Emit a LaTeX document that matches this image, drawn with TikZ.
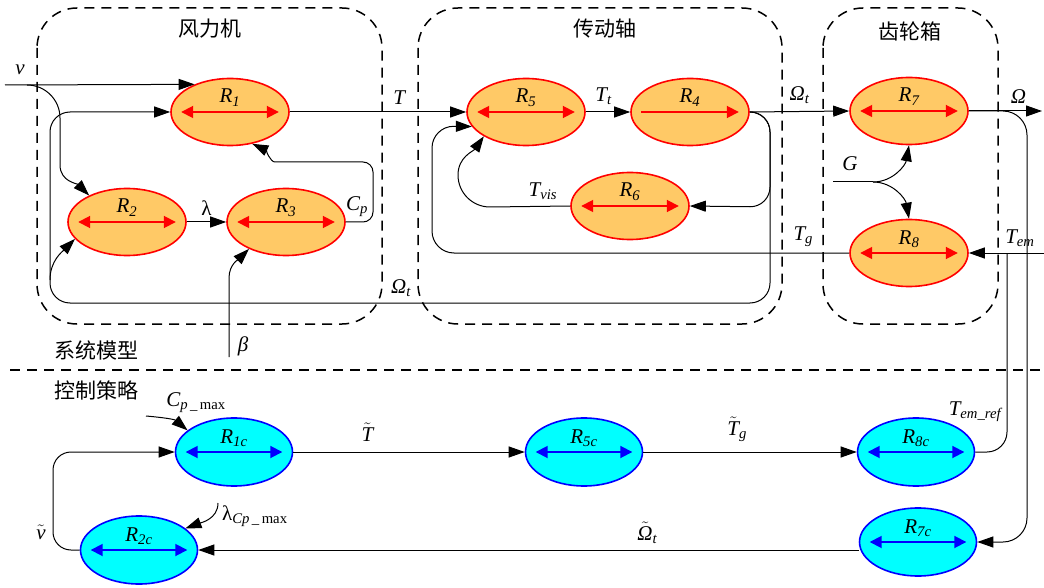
\documentclass[tikz,border=0pt]{standalone}
\usepackage{fontspec}
\setmainfont{Liberation Serif}
\newfontfamily\cjk{Noto Sans CJK SC}
\usepackage{xcolor}
\definecolor{plantFill}{HTML}{FFC966}
\definecolor{plantEdge}{HTML}{FF0000}
\definecolor{ctrlFill}{HTML}{00FFFF}
\definecolor{ctrlEdge}{HTML}{0000FF}
\usepackage{tikz}
\usetikzlibrary{shapes, arrows.meta, positioning, calc}

\newcommand{\subtxt}[1]{\textsubscript{#1}}
\newcommand{\tildeop}[1]{\ensuremath{\tilde{\mbox{#1}}}}

\begin{document}
\begin{tikzpicture}[
        x=1pt, y=-1pt,
        plantNode/.style={
            ellipse,
            draw=plantEdge,
            fill=plantFill,
            line width=1.6pt,
            minimum width=118pt,
            minimum height=67pt,
            inner sep=0pt
        },
        ctrlNode/.style={
            ellipse,
            draw=ctrlEdge,
            fill=ctrlFill,
            line width=1.6pt,
            minimum width=117pt,
            minimum height=68pt,
            inner sep=0pt
        },
        rLabel/.style={
            anchor=base,
            inner sep=0pt,
            font=\fontsize{21}{24}\selectfont\itshape
        },
        plantArrow/.style={
            {Triangle[length=12pt,width=12pt]}-{Triangle[length=12pt,width=12pt]},
            plantEdge,
            line width=1.8pt
        },
        ctrlArrow/.style={
            {Triangle[length=12pt,width=12pt]}-{Triangle[length=12pt,width=12pt]},
            ctrlEdge,
            line width=1.8pt
        },
        sigLine/.style={
            -{Triangle[length=16pt,width=11pt]},
            line width=1pt
        },
        plainLine/.style={
            line width=1pt
        },
        groupBox/.style={
            line width=1.5pt,
            dash pattern=on 10pt off 7pt,
            rounded corners=40pt
        },
        divLine/.style={
            line width=1.2pt,
            dash pattern=on 10pt off 7pt
        },
        sigLabel/.style={
            inner sep=2pt,
            font=\fontsize{21}{24}\selectfont\itshape
        },
        titleText/.style={
            font=\cjk\fontsize{21}{24}\selectfont
        }
    ]
    \useasboundingbox (0,0) rectangle (1044,588);

    % Group boxes
    \draw[groupBox] (37,8) rectangle (382,324);
    \draw[groupBox] (418,8) rectangle (782,324);
    \draw[groupBox] (823,8) rectangle (998,324);
    \node[titleText] (ttlWind) at (210,29) {风力机};
    \node[titleText] (ttlShaft) at (605,29) {传动轴};
    \node[titleText] (ttlGear) at (910,31) {齿轮箱};

    % Divider
    \draw[divLine] (10,370) -- (1044,370);
    \node[titleText] (ttlModel) at (96,350) {系统模型};
    \node[titleText] (ttlCtrl) at (96,390) {控制策略};

    % Plant blocks
    \foreach \nm/\px/\py/\idx in {r1/230/112/1, r2/127/222/2, r3/286/222/3, r5/526/112/5, r6/630/206/6, r7/909/111/7, r8/909/253/8}{
        \node[plantNode] (\nm) at (\px,\py) {};
        \node[rLabel] (\nm-t) at ([yshift=9pt]\nm.center) {R\subtxt{\idx}};
        \draw[plantArrow] ([xshift=11pt]\nm.west) -- ([xshift=-11pt]\nm.east);
    }
    \node[plantNode] (r4) at (690,112) {};
    \node[rLabel] (r4-t) at ([yshift=9pt]r4.center) {R\subtxt{4}};
    \draw[-{Triangle[length=12pt,width=12pt]}, plantEdge, line width=1.8pt] ([xshift=11pt]r4.west) -- ([xshift=-11pt]r4.east);

    % Control blocks
    \foreach \nm/\px/\py/\idx in {r1c/234/452/1c, r2c/139/550/2c, r5c/584/452/5c, r8c/916/452/8c, r7c/918/542/7c}{
        \node[ctrlNode] (\nm) at (\px,\py) {};
        \node[rLabel] (\nm-t) at ([yshift=9pt]\nm.center) {R\subtxt{\idx}};
        \draw[ctrlArrow] ([xshift=11pt]\nm.west) -- ([xshift=-11pt]\nm.east);
    }

    % Wind turbine signals
    \coordinate (vIn) at (5,85);
    \coordinate (vSplit) at (27,85);
    \draw[sigLine] (vIn) -- (r1.142);
    \node[sigLabel] (lblV) at (20,70) {v};
    \draw[sigLine] (vSplit) to[out=0,in=90] (60,118) -- (60,165) to[out=-90,in=135] (r2.145);
    \draw[sigLine] (r2.east) -- (r3.west) node[sigLabel, midway, above=4pt] (lblLam) {\upshape λ};
    \draw[sigLine, rounded corners=10pt] (r3.east) -- (373,222) -- (373,162) -- (285,162) to[out=180,in=-25] (r1.-55);
    \node[sigLabel] (lblCp) at (357,207) {C\subtxt{p}};
    \coordinate (betaIn) at (229,357);
    \draw[sigLine] (betaIn) -- (229,278) to[out=90,in=225] (r3.216);
    \node[sigLabel] (lblBeta) at (243,346) {β};
    \draw[sigLine] (r1.east) -- (r5.west) node[sigLabel, pos=0.62, above=5pt] (lblT) {T};

    % Drive shaft signals
    \draw[sigLine] (r5.east) -- (r4.west) node[sigLabel, pos=0.4, above=5pt] (lblTt) {T\subtxt{t}};
    \draw[sigLine, rounded corners=20pt] (r4.east) -- (770,112) -- (770,207) -- (r6.east);
    \draw[sigLine, rounded corners=20pt] (r4.east) -- (770,112) -- (770,303) -- (50,303) -- (50,112) -- (r1.west);
    \draw[sigLine] (50,280) to[out=90,in=225] (r2.198);
    \node[sigLabel] (lblOmB) at (401,288) {Ω\subtxt{t}};
    \draw[sigLine] (r6.west) -- node[sigLabel, pos=0.34, above=4pt] (lblTvis) {T\subtxt{vis}} (490,207) to[out=180,in=-90] (458,175) to[out=90,in=235] (r5.210);
    \draw[sigLine] (r4.east) -- (r7.west) node[sigLabel, midway, above=5pt] (lblOmT) {Ω\subtxt{t}};

    % Gearbox signals
    \coordinate (gIn) at (833,182);
    \coordinate (gSplit) at (873,182);
    \draw[plainLine] (gIn) -- (gSplit);
    \draw[sigLine] (gSplit) to[out=0,in=-100] (r7.south);
    \draw[sigLine] (gSplit) to[out=0,in=100] (r8.north);
    \node[sigLabel] (lblG) at (850,164) {G};
    \coordinate (omOut) at (1042,111);
    \draw[sigLine] (r7.east) -- (omOut) node[sigLabel, pos=0.68, above=5pt] (lblOm) {Ω};
    \draw[sigLine, rounded corners=24pt] (r7.east) -- (1027,111) -- (1027,542) -- (r7c.east);
    \coordinate (temIn) at (1044,253);
    \draw[sigLine] (temIn) -- (r8.east) node[sigLabel, pos=0.32, above=4pt] (lblTem) {T\subtxt{em}};
    \draw[sigLine, rounded corners=22pt] (r8.west) -- node[sigLabel, pos=0.11, above=4pt] (lblTg) {T\subtxt{g}} (432,253) -- (432,126) -- (r5.195);

    % Control signals
    \coordinate (cpIn) at (146,416);
    \draw[sigLine] (cpIn) to[out=-5,in=140] (r1c.155);
    \node[sigLabel] (lblCpMax) at (196,403) {C\subtxt{p\,\_\,\upshape max}};
    \draw[sigLine] (r1c.east) -- (r5c.west) node[sigLabel, pos=0.32, above=8pt] (lblTt2) {\tildeop{\itshape T}};
    \draw[sigLine] (r5c.east) -- (r8c.west) node[sigLabel, pos=0.44, above=8pt] (lblTg2) {\tildeop{\itshape T}\subtxt{g}};
    \coordinate (temJoin) at (1007,253);
    \draw[plainLine, rounded corners=20pt] (r8c.east) -- (1007,452) -- (temJoin);
    \node[sigLabel] (lblTemRef) at (975,412) {T\subtxt{em\_ref}};
    \draw[sigLine] (r7c.west |- r2c.east) -- (r2c.east) node[sigLabel, pos=0.32, above=4pt] (lblOm2) {\tildeop{\itshape Ω}\subtxt{t}};
    \draw[sigLine, rounded corners=18pt] (r2c.west) -- (53,550) -- (53,452) -- (r1c.west);
    \node[sigLabel] (lblV2) at (41,532) {\tildeop{\itshape v}};
    \coordinate (lamIn) at (218,503);
    \draw[sigLine] (lamIn) to[out=-90,in=20] (r2c.25);
    \node[sigLabel, anchor=west] (lblLamMax) at (220,516) {\upshape λ\subtxt{\itshape Cp\,\_\,\upshape max}};
\end{tikzpicture}
\end{document}
